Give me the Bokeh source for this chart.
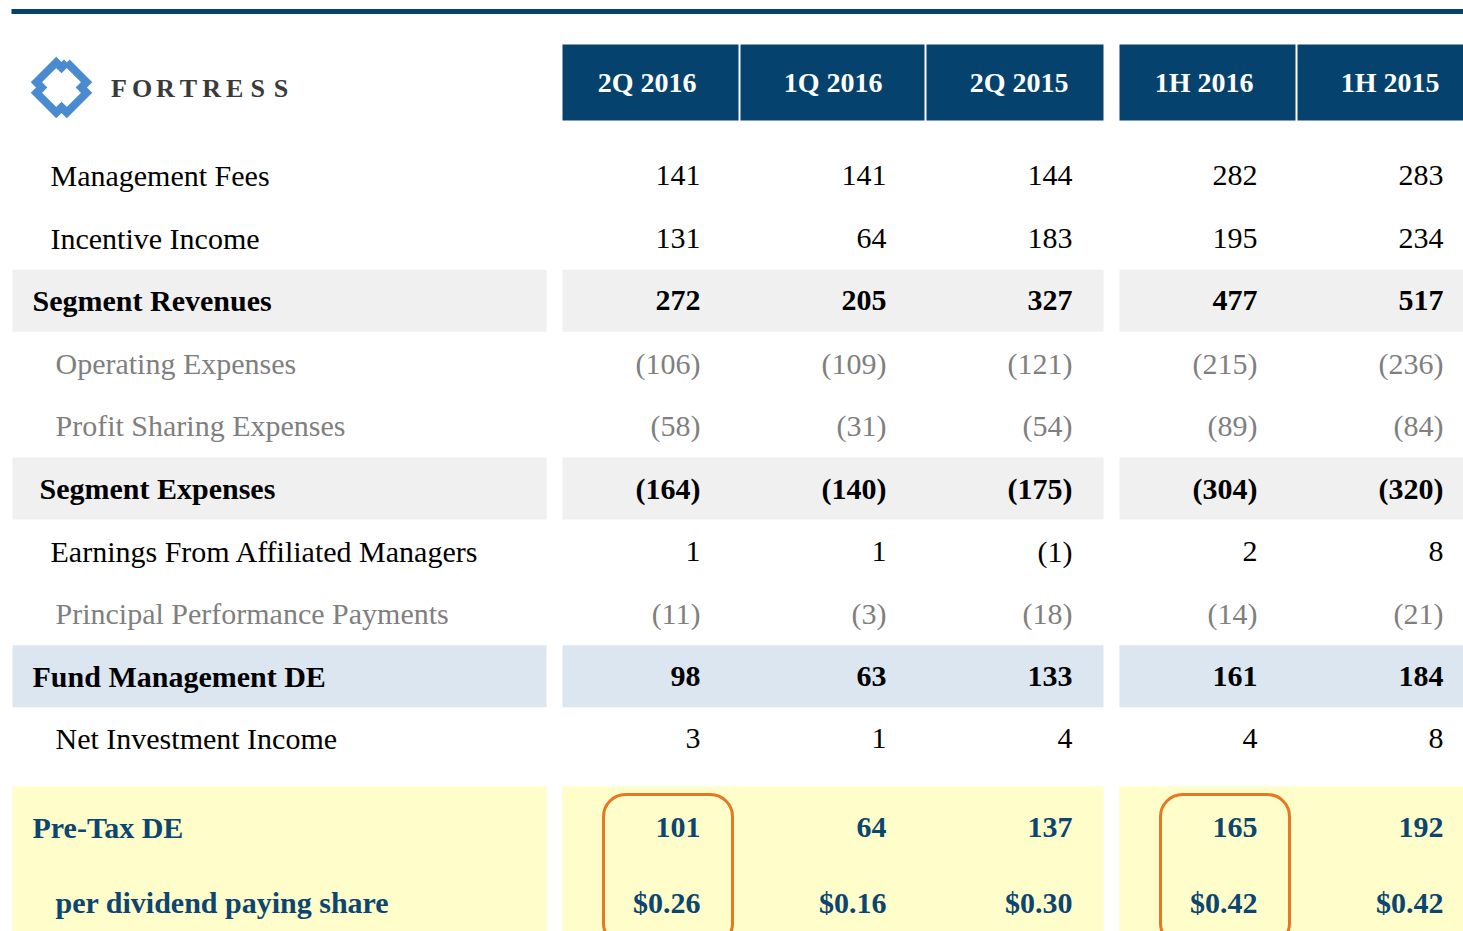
import numpy as np
from bokeh.plotting import figure
from bokeh.models import Range1d
from bokeh.core.properties import value
from bokeh.embed import file_html
from bokeh.resources import INLINE

# ---------------- data ----------------
periods = ["2Q 2016", "1Q 2016", "2Q 2015", "1H 2016", "1H 2015"]
row_labels = [
    "Management Fees", "Incentive Income", "Segment Revenues",
    "Operating Expenses", "Profit Sharing Expenses", "Segment Expenses",
    "Earnings From Affiliated Managers", "Principal Performance Payments",
    "Fund Management DE", "Net Investment Income", "Pre-Tax DE",
    "per dividend paying share",
]
q2_2016 = [141, 131, 272, -106, -58, -164, 1, -11, 98, 3, 101, 0.26]
q1_2016 = [141, 64, 205, -109, -31, -140, 1, -3, 63, 1, 64, 0.16]
q2_2015 = [144, 183, 327, -121, -54, -175, -1, -18, 133, 4, 137, 0.30]
h1_2016 = [282, 195, 477, -215, -89, -304, 2, -14, 161, 4, 165, 0.42]
h1_2015 = [283, 234, 517, -236, -84, -320, 8, -21, 184, 8, 192, 0.42]
series = [q2_2016, q1_2016, q2_2015, h1_2016, h1_2015]
# row style: kind
row_kind = ["n", "n", "b", "g", "g", "b", "n", "g", "b", "n", "y", "y"]
row_band = [None, None, "gray", None, None, "gray", None, None, "blue", None, "yellow", "yellow"]
row_indent = [50, 50, 32, 55, 55, 39, 50, 55, 32, 55, 32, 55]
highlight_cols = [0, 3]
logo_text = "FORTRESS"

# ---------------- style / layout ----------------
FONT = "Liberation Serif"
NAVY = "#05426E"
TXT = {"n": "#000000", "b": "#000000", "g": "#7F7F7F", "y": "#0B4570"}
WEIGHT = {"n": "normal", "b": "bold", "g": "normal", "y": "bold"}
BAND = {"gray": "#F0F0F0", "blue": "#DCE6F1", "yellow": "#FFFDC9"}
FS = "30px"

W, H = 1463, 931
X0, Y0 = 0, 0
p = figure(width=W, height=H, output_backend="svg", toolbar_location=None,
           x_range=Range1d(X0, X0 + W), y_range=Range1d(Y0 + H, Y0),
           min_border=0, outline_line_color=None, background_fill_color="white")
p.axis.visible = False
p.grid.visible = False

ROW0, ROW_H = 175, 62.6
row_y = [ROW0 + i * ROW_H for i in range(10)] + [827, 902]
label_band = (12, 546)
groups = [(562, 1103), (1119, 1463)]
header_cells = [(562, 738), (740, 924), (926, 1103), (1119, 1295), (1297, 1463)]
val_right = [700, 886, 1072, 1257, 1443]

# top rule
p.quad(left=[11], right=[1463], top=[8.5], bottom=[13.5], fill_color=NAVY, line_color=None)

# header
p.quad(left=[c[0] for c in header_cells], right=[c[1] for c in header_cells],
       top=[44] * 5, bottom=[120] * 5, fill_color=NAVY, line_color=None)
p.text(x=[r - 4 for r in val_right], y=[82] * 5, text=periods,
       text_font=value(FONT), text_font_size="28px", text_color="white",
       text_align="right", text_baseline="middle", text_font_style="bold")

# bands
for i, b in enumerate(row_band):
    if b is None:
        continue
    if b == "yellow":
        top, bot = 786, 940
    else:
        top, bot = row_y[i] - 31, row_y[i] + 31
    xs = [label_band] + groups
    p.quad(left=[a for a, _ in xs], right=[c for _, c in xs], top=[top] * 3,
           bottom=[bot] * 3, fill_color=BAND[b], line_color=None)

def fmt(v, i):
    if i == len(row_labels) - 1:
        return "$%.2f" % v
    return "(%d)" % (-v) if v < 0 else "%d" % v

# labels and values
for i, lab in enumerate(row_labels):
    k = row_kind[i]
    p.text(x=[row_indent[i]], y=[row_y[i]], text=[lab], text_font=value(FONT),
           text_font_size=FS, text_color=TXT[k], text_font_style=WEIGHT[k],
           text_align="left", text_baseline="middle")
    p.text(x=val_right, y=[row_y[i]] * 5, text=[fmt(s[i], i) for s in series],
           text_font=value(FONT), text_font_size=FS, text_color=TXT[k],
           text_font_style=WEIGHT[k], text_align="right", text_baseline="middle")

# orange rounded highlight boxes
for c in highlight_cols:
    p.quad(left=[val_right[c] - 97], right=[val_right[c] + 32], top=[794], bottom=[945],
           fill_color=None, line_color="#E87722", line_width=3, border_radius=22)

# logo: stepped diamond
cx, cy, a, n = 61, 87, 21.5, 7.5
u = [-a + n, a - n, a - n, a, a, a - n, a - n, -a + n, -a + n, -a, -a, -a + n, -a + n]
v = [-a, -a, -a + n, -a + n, a - n, a - n, a, a, a - n, a - n, -a + n, -a + n, -a]
u, v = np.array(u), np.array(v)
r = np.sqrt(0.5)
p.line(x=cx + (u - v) * r, y=cy + (u + v) * r, line_color="#4A8BD0", line_width=8,
       line_join="miter")
pitch = (292 - 107) / len(logo_text)
p.text(x=[107 + pitch / 2 + j * pitch for j in range(len(logo_text))], y=[88] * len(logo_text),
       text=list(logo_text), text_font=value(FONT), text_font_size="26px",
       text_color="#3A3A3A", text_align="center", text_baseline="middle",
       text_font_style="bold")

open("out.html", "w").write(file_html(p, INLINE))
